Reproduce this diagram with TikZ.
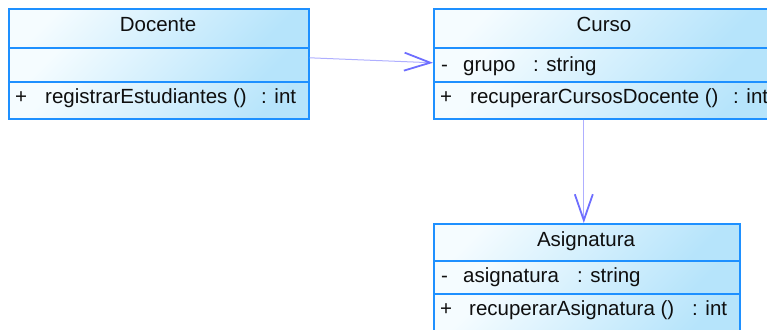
\documentclass[tikz,border=0pt]{standalone}
\usepackage{fontspec}
\setmainfont{Liberation Sans}
\usetikzlibrary{arrows.meta,positioning,calc}
\definecolor{boxborder}{RGB}{30,144,255}
\definecolor{boxlight}{RGB}{245,252,255}
\definecolor{boxdark}{RGB}{182,228,251}
\definecolor{shaftcol}{RGB}{175,175,255}
\definecolor{tipcol}{RGB}{110,110,255}
\definecolor{txtcol}{RGB}{15,15,15}
\tikzset{
  comp/.style={draw=boxborder, line width=1.6pt, top color=boxlight, bottom color=boxdark, shading angle=45,
    rectangle, inner sep=0pt, anchor=north west},
  lbl/.style={inner sep=0pt, anchor=base west, text=txtcol, font=\fontsize{20.5}{24}\selectfont},
  hlbl/.style={inner sep=0pt, anchor=base, text=txtcol, font=\fontsize{20.5}{24}\selectfont},
  assoc/.style={draw=shaftcol, line width=1pt, -{Straight Barb[length=26pt,width=18pt,line width=1.8pt,color=tipcol]}}
}
\begin{document}
\begin{tikzpicture}[x=1pt,y=-1pt]
\useasboundingbox (0,0) rectangle (767,329);
% Docente
\node[comp, minimum width=300pt, minimum height=39pt] (docH) at (8,8) {};
\node[comp, minimum width=300pt, minimum height=34pt] (docA) at (8,47) {};
\node[comp, minimum width=300pt, minimum height=37pt] (docM) at (8,81) {};
\node[hlbl] (docT) at (158,32) {Docente};
\node[lbl] (docM1) at (15,103) {+};
\node[lbl] (docM2) at (45,103) {registrarEstudiantes ()};
\node[lbl] (docM3) at (261,103) {: int};
% Curso
\node[comp, minimum width=340pt, minimum height=39pt] (curH) at (433,8) {};
\node[comp, minimum width=340pt, minimum height=34pt] (curA) at (433,47) {};
\node[comp, minimum width=340pt, minimum height=37pt] (curM) at (433,81) {};
\node[hlbl] (curT) at (604,32) {Curso};
\node[lbl] (curA1) at (441,71) {-};
\node[lbl] (curA2) at (463,71) {grupo};
\node[lbl] (curA3) at (533,71) {: string};
\node[lbl] (curM1) at (440,103) {+};
\node[lbl] (curM2) at (470,103) {recuperarCursosDocente ()};
\node[lbl] (curM3) at (733,103) {: int};
% Asignatura
\node[comp, minimum width=306pt, minimum height=37pt] (asiH) at (433,223) {};
\node[comp, minimum width=306pt, minimum height=33pt] (asiA) at (433,260) {};
\node[comp, minimum width=306pt, minimum height=40pt] (asiM) at (433,293) {};
\node[hlbl] (asiT) at (586,246) {Asignatura};
\node[lbl] (asiA1) at (441,282) {-};
\node[lbl] (asiA2) at (463,282) {asignatura};
\node[lbl] (asiA3) at (577,282) {: string};
\node[lbl] (asiM1) at (440,315) {+};
\node[lbl] (asiM2) at (469,315) {recuperarAsignatura ()};
\node[lbl] (asiM3) at (692,315) {: int};
% connectors
\draw[assoc] ([yshift=7pt]docA.east) -- ([yshift=2pt]curA.west);
\draw[assoc] (curM.south -| asiH.north) ++(-3,0) coordinate (s2) -- ([xshift=-3pt]asiH.north);
\end{tikzpicture}
\end{document}
